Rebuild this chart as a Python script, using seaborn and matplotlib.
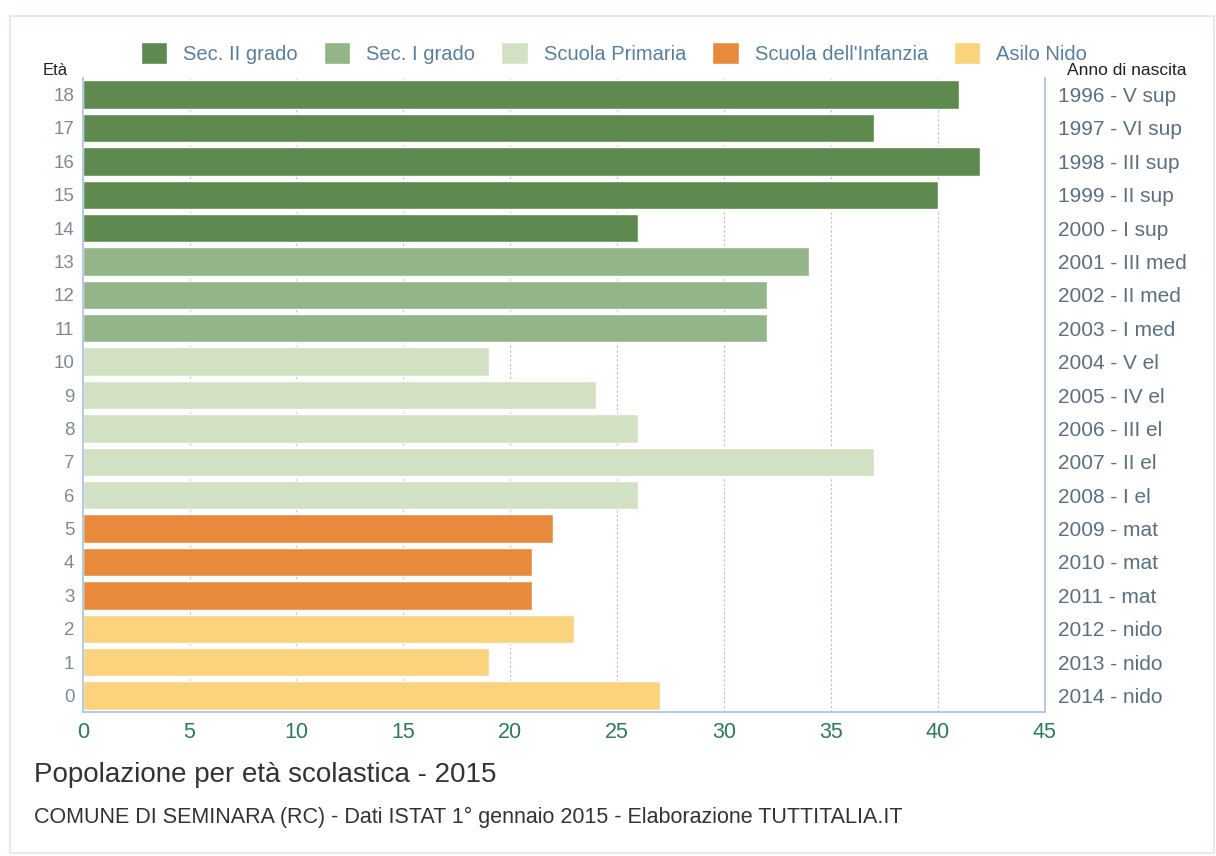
import matplotlib
matplotlib.use("Agg")
import matplotlib.pyplot as plt
import seaborn as sns
import pandas as pd
from matplotlib.patches import Rectangle

ages = [18, 17, 16, 15, 14, 13, 12, 11, 10, 9, 8, 7, 6, 5, 4, 3, 2, 1, 0]
values = [41, 37, 42, 40, 26, 34, 32, 32, 19, 24, 26, 37, 26, 22, 21, 21, 23, 19, 27]
birth_labels = ["1996 - V sup", "1997 - VI sup", "1998 - III sup", "1999 - II sup",
                "2000 - I sup", "2001 - III med", "2002 - II med", "2003 - I med",
                "2004 - V el", "2005 - IV el", "2006 - III el", "2007 - II el",
                "2008 - I el", "2009 - mat", "2010 - mat", "2011 - mat",
                "2012 - nido", "2013 - nido", "2014 - nido"]
groups = (["Sec. II grado"] * 5 + ["Sec. I grado"] * 3 + ["Scuola Primaria"] * 5
          + ["Scuola dell'Infanzia"] * 3 + ["Asilo Nido"] * 3)
group_order = ["Sec. II grado", "Sec. I grado", "Scuola Primaria",
               "Scuola dell'Infanzia", "Asilo Nido"]
colors = ["#5f8a4f", "#94b588", "#d2e0c4", "#e88a3c", "#fbd37c"]

df = pd.DataFrame({"age": [str(a) for a in ages], "value": values, "group": groups})

sns.set_theme(style="white")
plt.rcParams['font.family'] = ['Liberation Sans', 'DejaVu Sans']

fig = plt.figure(figsize=(12.16, 8.56), dpi=100)
ax = fig.add_axes([0.068, 0.168, 0.791, 0.741])

sns.barplot(data=df, y="age", x="value", hue="group", hue_order=group_order,
            palette=dict(zip(group_order, colors)), order=[str(a) for a in ages],
            orient="h", dodge=False, width=0.85, ax=ax, legend=True, saturation=1)

ax.set_xlim(0, 45)
ax.set_ylim(len(ages) - 0.5, -0.5)
ax.set_xticks(range(0, 46, 5))
ax.set_xlabel("")
ax.set_ylabel("")
ax.tick_params(axis="x", labelsize=15.5, length=5, width=0.8, pad=2,
               color="#a8c4e0")
ax.tick_params(axis="y", colors="#7a8a99", labelsize=13.5, length=0, pad=6)
for t in ax.get_xticklabels():
    t.set_color("#2f7a5a")
for x in range(5, 45, 5):
    ax.axvline(x, color="#a8c4e0", lw=0.8, ls=(0, (2, 2)), zorder=0)
ax.set_axisbelow(True)
ax.spines["top"].set_visible(False)
for s in ["right", "left", "bottom"]:
    ax.spines[s].set_color("#a8c4e0")

ax2 = ax.twinx()
ax2.set_ylim(ax.get_ylim())
ax2.set_yticks(range(len(ages)))
ax2.set_yticklabels(birth_labels)
ax2.tick_params(axis="y", colors="#5a6f80", labelsize=15, length=0, pad=10)
for s in ax2.spines.values():
    s.set_visible(False)

h, l = ax.get_legend_handles_labels()
ax.get_legend().remove()
fig.legend(h, l, loc="upper center", bbox_to_anchor=(0.505, 0.972), ncol=5,
           frameon=False, fontsize=14.5, handlelength=1.3, handleheight=1.3,
           handletextpad=0.8, columnspacing=1.3, labelcolor="#5a7f9a")

fig.text(0.035, 0.912, "Età", fontsize=12, color="#222222", ha="left")
fig.text(0.976, 0.912, "Anno di nascita", fontsize=12.5, color="#222222", ha="right")
fig.text(0.028, 0.086, "Popolazione per età scolastica - 2015", fontsize=20, color="#333333")
fig.text(0.028, 0.038, "COMUNE DI SEMINARA (RC) - Dati ISTAT 1° gennaio 2015 - Elaborazione TUTTITALIA.IT",
         fontsize=15.5, color="#333333")

fig.patches.append(Rectangle((0.008, 0.003), 0.99, 0.978, transform=fig.transFigure,
                             fill=False, edgecolor="#dde8f2", lw=1.2))

fig.savefig("out.png", dpi=100, facecolor="white")
